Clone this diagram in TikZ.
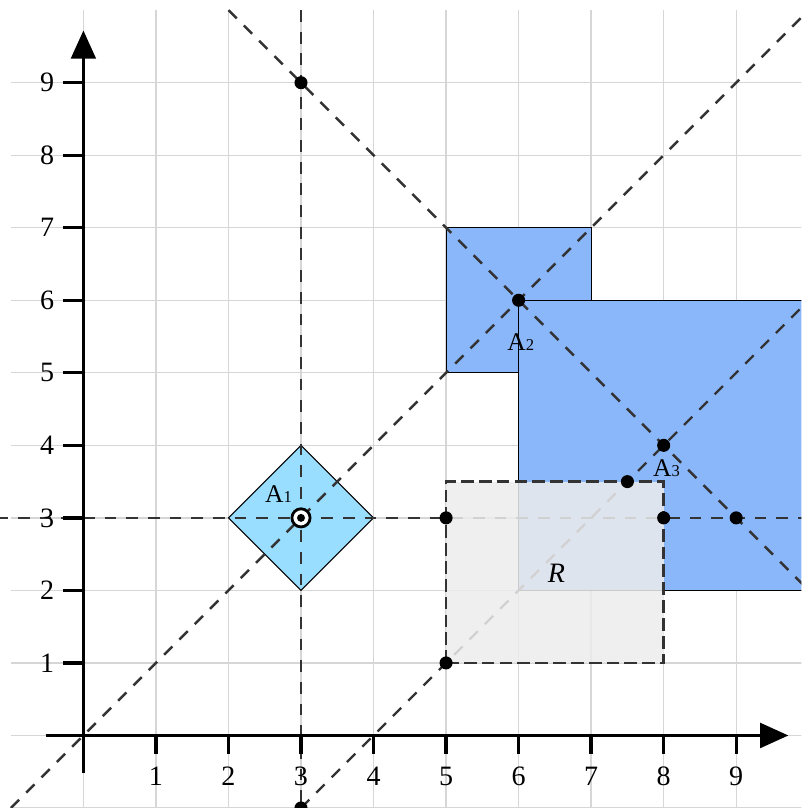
\documentclass[tikz,border=0pt]{standalone}
\usepackage{fontspec}
\setmainfont{Liberation Serif}
\usetikzlibrary{arrows.meta}

\definecolor{cellblue}{RGB}{138,182,250}
\definecolor{cellcyan}{RGB}{153,221,255}
\definecolor{rgray}{RGB}{236,236,236}
\tikzset{
  guide/.style={dash pattern=on 4.6pt off 3.9pt, line width=0.95pt, black!80},
  axis/.style={line width=1.3pt, -{Triangle[length=0.39cm,width=0.34cm]}},
  axtick/.style={line width=1.3pt},
  pt/.style={circle, fill=black, inner sep=0pt, minimum size=0.18cm},
  alabel/.style={font=\fontsize{10}{12}\selectfont, inner sep=0pt},
}
\newcommand{\alab}[1]{A{\fontsize{6.5}{8}\selectfont #1}}

\begin{document}
\begin{tikzpicture}[font=\fontsize{11}{13}\selectfont]
  \useasboundingbox (-1.15,-1.0) rectangle (9.9,10.14);
  \clip (-1.15,-1.0) rectangle (9.9,10.14);
  \foreach \k in {0,...,10} {
    \draw[black!16, line width=0.5pt] (\k,-1) -- (\k,10);
    \draw[black!16, line width=0.5pt] (-1,\k-1) -- (10,\k-1);
  }

  % regions
  \draw[fill=cellcyan, line width=0.4pt] (2,3) -- (3,4) -- (4,3) -- (3,2) -- cycle;
  \draw[fill=cellblue, line width=0.4pt] (5,5) rectangle (7,7);
  \draw[fill=cellblue, line width=0.4pt] (6,2) rectangle (10,6);

  % guide lines
  \draw[guide] (-1.2,3) -- (10,3);
  \draw[guide] (3,10) -- (3,-1);
  \draw[guide] (-1,-1) -- (10,10);
  \draw[guide] (2,10) -- (10,2);
  \draw[guide] (3,-1) -- (10,6);

  % region R
  \fill[rgray, opacity=0.86] (5,1) rectangle (8,3.5);
  \draw[dash pattern=on 5pt off 2pt, line width=1pt, black!80] (5,1) rectangle (8,3.5);
  \node (r) at (6.52,2.23) {\textit{R}};

  % axes
  \draw[axis] (-0.52,0) -- (9.72,0);
  \draw[axis] (0,-0.52) -- (0,9.72);
  \foreach \i in {1,...,9} {
    \draw[axtick] (\i,0) -- (\i,-0.25);
    \node (xl\i) at (\i,-0.56) {\i};
    \draw[axtick] (0,\i) -- (-0.28,\i);
    \node (yl\i) at (-0.5,\i) {\i};
  }

  % points
  \node[pt] (p39) at (3,9) {};
  \node[pt] (p66) at (6,6) {};
  \node[pt] (p84) at (8,4) {};
  \node[pt] (p75) at (7.5,3.5) {};
  \node[pt] (p53) at (5,3) {};
  \node[pt] (p83) at (8,3) {};
  \node[pt] (p93) at (9,3) {};
  \node[pt] (p51) at (5,1) {};
  \node[pt] (p3m) at (3,-1) {};
  \node[circle, draw=black, fill=white, line width=1.1pt, inner sep=0pt, minimum size=0.25cm] (p33) at (3,3) {};
  \node[pt, minimum size=0.11cm] at (p33) {};

  % labels
  \node[alabel] (a1) at (2.69,3.33) {\alab{1}};
  \node[alabel] (a2) at (6.03,5.42) {\alab{2}};
  \node[alabel] (a3) at (8.04,3.69) {\alab{3}};
\end{tikzpicture}
\end{document}
